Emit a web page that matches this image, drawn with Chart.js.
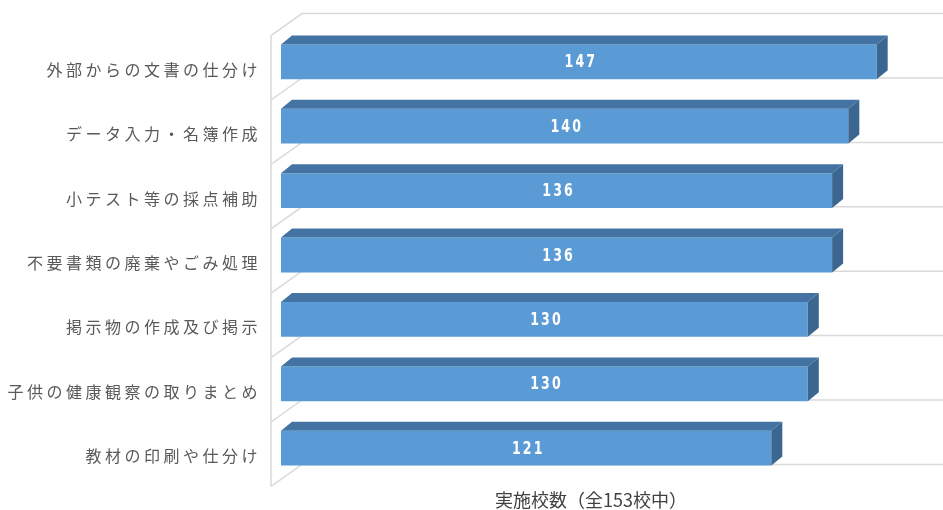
<!DOCTYPE html>
<html>
<head>
<meta charset="utf-8">
<script src="https://cdn.jsdelivr.net/npm/chart.js@4/dist/chart.umd.min.js"></script>
<style>
  html, body { margin: 0; padding: 0; background: #fff; }
  canvas { display: block; }
</style>
</head>
<body>
<canvas id="taskChart" width="943" height="510"></canvas>
<script>
var tasks = [
  "外部からの文書の仕分け",
  "データ入力・名簿作成",
  "小テスト等の採点補助",
  "不要書類の廃棄やごみ処理",
  "掲示物の作成及び掲示",
  "子供の健康観察の取りまとめ",
  "教材の印刷や仕分け"
];
var schoolCounts = [147, 140, 136, 136, 130, 130, 121];
var totalSchools = 153;
var axisTitle = "実施校数（全153校中）";

// depth of the box walls and of each bar
var wallFront = { dx: -10, dy: 6 };
var wallBack = { dx: 21, dy: -16 };
var barDepth = { dx: 11, dy: -9 };

var wallPlugin = {
  id: "walls",
  beforeDraw: function (chart) {
    chart.ctx.letterSpacing = "0px";
  },
  beforeDatasetsDraw: function (chart) {
    var ctx = chart.ctx;
    var area = chart.chartArea;
    var yScale = chart.scales.y;
    var n = tasks.length;
    var band = (area.bottom - area.top) / n;
    var bounds = [];
    for (var i = 0; i < n; i++) {
      bounds.push(yScale.getPixelForValue(i) - band / 2);
    }
    bounds.push(yScale.getPixelForValue(n - 1) + band / 2);

    ctx.save();
    ctx.strokeStyle = "#d9d9d9";
    ctx.lineWidth = 1.5;
    ctx.beginPath();
    ctx.moveTo(area.left + wallFront.dx, bounds[0] + wallFront.dy);
    ctx.lineTo(area.left + wallFront.dx, bounds[n] + wallFront.dy);
    for (var j = 0; j <= n; j++) {
      ctx.moveTo(area.left + wallFront.dx, bounds[j] + wallFront.dy);
      ctx.lineTo(area.left + wallBack.dx, bounds[j] + wallBack.dy);
      ctx.lineTo(chart.width, bounds[j] + wallBack.dy);
    }
    ctx.stroke();
    ctx.restore();
  },
  afterDatasetsDraw: function (chart) {
    var ctx = chart.ctx;
    var meta = chart.getDatasetMeta(0);
    meta.data.forEach(function (bar, i) {
      var p = bar.getProps(["x", "y", "base", "height"], true);
      var top = p.y - p.height / 2;
      var bottom = p.y + p.height / 2;

      ctx.save();
      // top face
      ctx.fillStyle = "#4373a3";
      ctx.beginPath();
      ctx.moveTo(p.base, top);
      ctx.lineTo(p.x, top);
      ctx.lineTo(p.x + barDepth.dx, top + barDepth.dy);
      ctx.lineTo(p.base + barDepth.dx, top + barDepth.dy);
      ctx.closePath();
      ctx.fill();

      // end face
      ctx.fillStyle = "#3b6690";
      ctx.beginPath();
      ctx.moveTo(p.x, top);
      ctx.lineTo(p.x + barDepth.dx, top + barDepth.dy);
      ctx.lineTo(p.x + barDepth.dx, bottom + barDepth.dy);
      ctx.lineTo(p.x, bottom);
      ctx.closePath();
      ctx.fill();

      // value label, narrow bold digits
      ctx.translate((p.base + p.x) / 2 + 1, p.y + 1);
      ctx.scale(0.7, 1);
      ctx.letterSpacing = "3px";
      ctx.fillStyle = "#ffffff";
      ctx.font = "bold 18px 'DejaVu Sans', sans-serif";
      ctx.textAlign = "center";
      ctx.textBaseline = "middle";
      ctx.fillText(String(schoolCounts[i]), 1.5, 0);
      ctx.restore();
    });
    // category labels are spaced out
    ctx.letterSpacing = "3.5px";
  },
  afterDraw: function (chart) {
    chart.ctx.letterSpacing = "0px";
  }
};

var ctx = document.getElementById("taskChart");

var chart = new Chart(ctx, {
  type: "bar",
  data: {
    labels: tasks,
    datasets: [
      {
        data: schoolCounts,
        backgroundColor: "#5b9bd5",
        borderWidth: 0,
        barPercentage: 0.54,
        categoryPercentage: 1
      }
    ]
  },
  options: {
    indexAxis: "y",
    responsive: false,
    animation: false,
    devicePixelRatio: 1,
    layout: {
      padding: { top: 29, left: 0, right: 42, bottom: 0 }
    },
    plugins: {
      legend: { display: false },
      tooltip: { enabled: false }
    },
    scales: {
      x: {
        min: 0,
        max: totalSchools,
        grid: { display: false, drawTicks: false },
        border: { display: false },
        ticks: { display: false },
        title: {
          display: true,
          text: axisTitle,
          color: "#404040",
          font: { family: "'Noto Sans CJK JP', sans-serif", size: 18, lineHeight: 1.2 },
          padding: { top: 0, bottom: -7 }
        },
        afterFit: function (scale) {
          scale.height = 24;
        }
      },
      y: {
        grid: { display: false, drawTicks: false },
        border: { display: false },
        ticks: {
          z: 1,
          color: "#595959",
          font: { family: "'Noto Sans CJK JP', sans-serif", size: 16 },
          padding: 20,
          labelOffset: 8
        },
        afterFit: function (scale) {
          scale.width = 281;
        }
      }
    }
  },
  plugins: [wallPlugin]
});
</script>
</body>
</html>
